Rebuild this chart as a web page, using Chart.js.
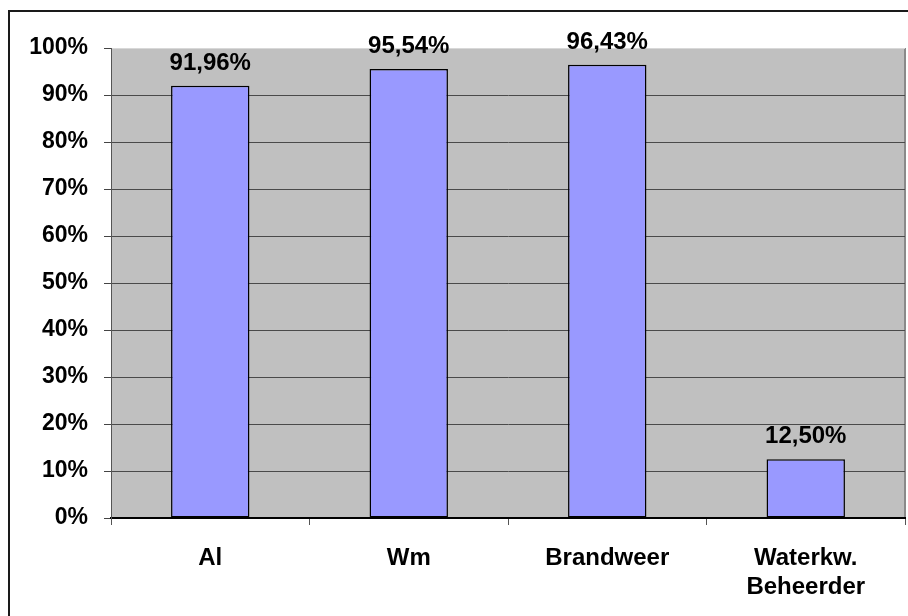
<!DOCTYPE html>
<html lang="nl">
<head>
    <meta charset="UTF-8">
    <title>Percentages per discipline</title>
    <script src="https://cdn.jsdelivr.net/npm/chart.js"></script>
    <style>
        body { margin: 0; background: #fff; }
        canvas { display: block; }
    </style>
</head>
<body>
    <canvas id="chart" width="908" height="616"></canvas>
    <script>
        // categorieën en scores (in procent)
        const categories = ['Al', 'Wm', 'Brandweer', ['Waterkw.', 'Beheerder']];
        const scores = [91.96, 95.54, 96.43, 12.50];
        const yTicks = [0, 10, 20, 30, 40, 50, 60, 70, 80, 90, 100];

        const FONT = "'Liberation Sans', Arial, sans-serif";

        // grijze achtergrond van het plotgebied + kader om de grafiek
        const plotBackground = {
            id: 'plotBackground',
            beforeDraw(chart) {
                const { ctx, chartArea: a } = chart;
                ctx.save();
                ctx.fillStyle = '#c0c0c0';
                ctx.fillRect(a.left, a.top, a.right - a.left, a.bottom - a.top);
                ctx.strokeStyle = '#8a8a8a';
                ctx.lineWidth = 2;
                ctx.beginPath();
                ctx.moveTo(a.right, a.top);
                ctx.lineTo(a.right, a.bottom);
                ctx.stroke();
                ctx.strokeStyle = '#d8d8d8';
                ctx.lineWidth = 1;
                ctx.beginPath();
                ctx.moveTo(a.left, a.top + 0.5);
                ctx.lineTo(a.right, a.top + 0.5);
                ctx.stroke();
                // kaderlijnen links en boven
                ctx.strokeStyle = '#1a1a1a';
                ctx.lineWidth = 2;
                ctx.beginPath();
                ctx.moveTo(9, chart.height);
                ctx.lineTo(9, 11);
                ctx.lineTo(chart.width, 11);
                ctx.stroke();
                ctx.restore();
            }
        };

        // waarde boven elke staaf, met komma als decimaalteken
        const valueLabels = {
            id: 'valueLabels',
            afterDatasetsDraw(chart) {
                const { ctx } = chart;
                const meta = chart.getDatasetMeta(0);
                ctx.save();
                ctx.font = 'bold 24px ' + FONT;
                ctx.fillStyle = '#000';
                ctx.textAlign = 'center';
                ctx.textBaseline = 'alphabetic';
                meta.data.forEach((bar, i) => {
                    const text = scores[i].toFixed(2).replace('.', ',') + '%';
                    ctx.fillText(text, bar.x, bar.y - 16);
                });
                ctx.restore();
            }
        };

        const ctx = document.getElementById('chart').getContext('2d');
        new Chart(ctx, {
            type: 'bar',
            data: {
                labels: categories,
                datasets: [{
                    data: scores,
                    backgroundColor: '#9999ff',
                    borderColor: '#000',
                    borderWidth: 1.5,
                    borderSkipped: false,
                    barPercentage: 0.395,
                    categoryPercentage: 1
                }]
            },
            options: {
                responsive: false,
                devicePixelRatio: 1,
                animation: false,
                layout: { padding: { top: 48, right: 3, left: 0, bottom: 0 } },
                plugins: {
                    legend: { display: false },
                    tooltip: { enabled: false }
                },
                scales: {
                    x: {
                        offset: true,
                        grid: {
                            offset: true,
                            drawOnChartArea: false,
                            drawTicks: true,
                            tickLength: 7,
                            tickColor: '#555'
                        },
                        border: { color: '#000', width: 2 },
                        ticks: {
                            color: '#000',
                            padding: 19,
                            maxRotation: 0,
                            font: { family: FONT, size: 24, weight: 'bold', lineHeight: 1.2 }
                        },
                        afterFit(scale) { scale.height = 98; }
                    },
                    y: {
                        min: 0,
                        max: 100,
                        afterBuildTicks(scale) {
                            scale.ticks = yTicks.map(v => ({ value: v }));
                        },
                        grid: {
                            color: ctx => ctx.tick && ctx.tick.value === 100 ? 'rgba(0,0,0,0)' : '#4a4a4a',
                            tickColor: '#444',
                            tickLength: 7,
                            lineWidth: 1
                        },
                        border: { color: '#555', width: 1 },
                        ticks: {
                            color: '#000',
                            padding: 16,
                            font: { family: FONT, size: 23, weight: 'bold' },
                            callback: v => v + '%'
                        },
                        afterFit(scale) { scale.width = 111; }
                    }
                }
            },
            plugins: [plotBackground, valueLabels]
        });
    </script>
</body>
</html>
